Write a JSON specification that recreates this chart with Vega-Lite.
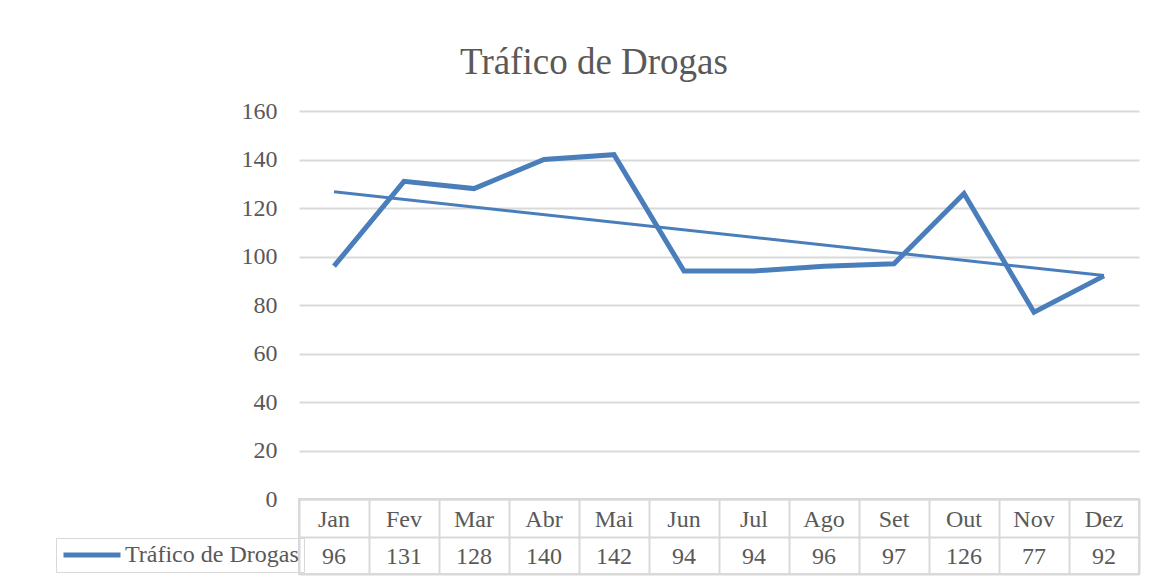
{
  "$schema": "https://vega.github.io/schema/vega-lite/v6.json",
  "padding": {"left": 55, "top": 44, "right": 10, "bottom": 4},
  "background": "white",
  "bounds": "flush",
  "spacing": 0,
  "title": {
    "text": "Tráfico de Drogas",
    "font": "Liberation Serif",
    "fontSize": 37,
    "fontWeight": "normal",
    "color": "#595959",
    "anchor": "middle",
    "frame": "group",
    "baseline": "alphabetic",
    "dx": -125,
    "offset": -12
  },
  "datasets": {
    "d": [
      {"m": "Jan", "i": 1, "v": 96},
      {"m": "Fev", "i": 2, "v": 131},
      {"m": "Mar", "i": 3, "v": 128},
      {"m": "Abr", "i": 4, "v": 140},
      {"m": "Mai", "i": 5, "v": 142},
      {"m": "Jun", "i": 6, "v": 94},
      {"m": "Jul", "i": 7, "v": 94},
      {"m": "Ago", "i": 8, "v": 96},
      {"m": "Set", "i": 9, "v": 97},
      {"m": "Out", "i": 10, "v": 126},
      {"m": "Nov", "i": 11, "v": 77},
      {"m": "Dez", "i": 12, "v": 92}
    ]
  },
  "data": {"name": "d"},
  "vconcat": [
    {
      "width": 840,
      "height": 388,
      "view": {"stroke": null},
      "layer": [
        {
          "mark": {"type": "line", "strokeWidth": 5, "strokeJoin": "miter"},
          "encoding": {
            "x": {
              "field": "m", "type": "nominal",
              "scale": {"domain": ["Jan","Fev","Mar","Abr","Mai","Jun","Jul","Ago","Set","Out","Nov","Dez"], "paddingInner": 0, "paddingOuter": 0},
              "axis": null
            },
            "y": {
              "field": "v", "type": "quantitative",
              "scale": {"domain": [0, 160]},
              "axis": {
                "title": null, "tickCount": 8, "domain": false, "ticks": false,
                "grid": true, "gridColor": "#d9d9d9", "gridWidth": 2,
                "labelFont": "Liberation Serif", "labelFontSize": 24, "labelColor": "#595959",
                "labelPadding": 22
              }
            },
            "color": {
              "datum": "Tráfico de Drogas", "type": "nominal",
              "scale": {"range": ["#4a7ebb"]},
              "legend": {
                "title": null, "orient": "none", "legendX": -243, "legendY": 427,
                "symbolType": "M-1,0H5", "symbolStrokeWidth": 5, "symbolSize": 361,
                "symbolFillColor": "transparent", "symbolStrokeColor": "#4a7ebb",
                "labelFont": "Liberation Serif", "labelFontSize": 24, "labelColor": "#595959",
                "labelOffset": 40, "labelLimit": 0, "padding": 5, "strokeColor": "#d9d9d9"
              }
            }
          }
        },
        {
          "transform": [
            {"regression": "v", "on": "i"},
            {"lookup": "i", "from": {"data": {"name": "d"}, "key": "i", "fields": ["m"]}}
          ],
          "mark": {"type": "line", "strokeWidth": 3, "color": "#4a7ebb"},
          "encoding": {
            "x": {"field": "m", "type": "nominal"},
            "y": {"field": "v", "type": "quantitative"}
          }
        }
      ]
    },
    {
      "width": 840,
      "height": 75,
      "view": {"stroke": "#d9d9d9", "strokeWidth": 2},
      "transform": [{"fold": ["m", "v"]}],
      "mark": {"type": "text", "font": "Liberation Serif", "fontSize": 24, "color": "#595959", "dy": 2},
      "encoding": {
        "x": {
          "field": "m", "type": "nominal",
          "scale": {"domain": ["Jan","Fev","Mar","Abr","Mai","Jun","Jul","Ago","Set","Out","Nov","Dez"], "paddingInner": 0, "paddingOuter": 0},
          "axis": {"title": null, "labels": false, "ticks": false, "domain": false, "grid": true, "tickBand": "extent", "gridColor": "#d9d9d9", "gridWidth": 2}
        },
        "y": {
          "field": "key", "type": "nominal",
          "scale": {"domain": ["m", "v"], "paddingInner": 0, "paddingOuter": 0},
          "axis": {"title": null, "labels": false, "ticks": false, "domain": false, "grid": true, "tickBand": "extent", "gridColor": "#d9d9d9", "gridWidth": 2}
        },
        "text": {"field": "value", "type": "nominal"}
      }
    }
  ]
}
